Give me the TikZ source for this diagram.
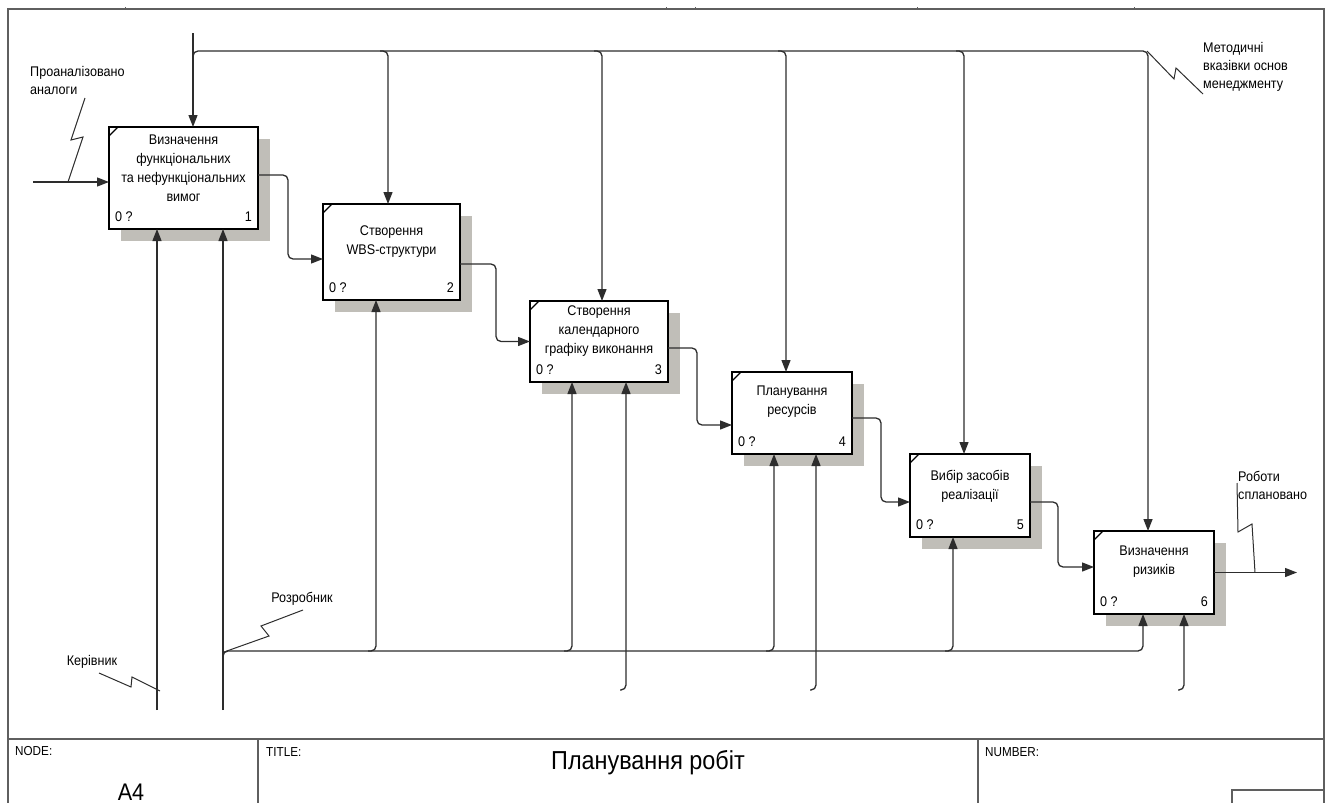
\documentclass[tikz,border=0pt]{standalone}
\usepackage{fontspec}
\setmainfont{Liberation Sans}[FakeStretch=0.9]
\usetikzlibrary{arrows.meta,calc}
\pgfdeclarelayer{background}
\pgfsetlayers{background,main}
\definecolor{shadowgray}{RGB}{192,190,184}
\definecolor{wire}{RGB}{45,45,45}
\definecolor{framegray}{RGB}{95,95,95}

\begin{document}
\begin{tikzpicture}[x=1pt,y=-1pt,
  box/.style={draw=black, line width=2.4pt, fill=white, outer sep=0pt, inner sep=0pt},
  boxtext/.style={align=center, font=\fontsize{14}{19}\selectfont, inner sep=0pt},
  corner/.style={font=\fontsize{14}{16}\selectfont, inner sep=0pt},
  lbl/.style={align=left, font=\fontsize{14}{18}\selectfont, inner sep=0pt},
  foot/.style={font=\fontsize{13}{15}\selectfont, inner sep=0pt},
  conn/.style={draw=wire, line width=1.3pt, rounded corners=5pt},
  arr/.style={conn, -{Triangle[length=12pt,width=9pt]}},
  bolt/.style={draw=wire, line width=1pt},
  frame/.style={draw=framegray, line width=2pt}]

\useasboundingbox (0,0) rectangle (1331,803);

% ---- drawing frame and title block ----
\draw[frame] (8,803) -- (8,9) -- (1324,9) -- (1324,803);
\draw[frame] (8,739) -- (1324,739);
\draw[frame, line width=1.2pt] (258,739) -- (258,803);
\draw[frame, line width=1.2pt] (978,739) -- (978,803);
\draw[frame, line width=1.2pt] (1232,803) -- (1232,790) -- (1324,790);
\foreach \t in {125,666,695,917,1134}
  \draw[framegray, line width=0.8pt] (\t,7) -- (\t,9);

\node[foot, anchor=west] (nodelbl) at (15,751) {NODE:};
\node[foot, anchor=west] (titlelbl) at (266,752) {TITLE:};
\node[foot, anchor=west] (numlbl) at (985,752) {NUMBER:};
\node[inner sep=0pt, font=\fontsize{26}{30}\selectfont] (title) at (648,763) {Планування робіт};
\node[inner sep=0pt, font=\fontsize{24}{28}\selectfont] (nodeid) at (131,792) {A4};

% ---- activity boxes ----
\node[box, minimum width=149pt, minimum height=102pt] (b1) at (183.5,178) {};
\node[box, minimum width=137pt, minimum height=96pt]  (b2) at (391.5,252) {};
\node[box, minimum width=138pt, minimum height=81pt]  (b3) at (599,341.5) {};
\node[box, minimum width=120pt, minimum height=82pt]  (b4) at (792,413) {};
\node[box, minimum width=120pt, minimum height=83pt]  (b5) at (970,495.5) {};
\node[box, minimum width=120pt, minimum height=83pt]  (b6) at (1154,572.5) {};

\begin{pgfonlayer}{background}
\foreach \b in {b1,b2,b3,b4,b5,b6}
  \fill[shadowgray] ($(\b.south west)+(12,12)$) rectangle ($(\b.north east)+(12,12)$);
\end{pgfonlayer}

\foreach \b/\n in {b1/1,b2/2,b3/3,b4/4,b5/5,b6/6}{
  \draw[line width=1.2pt] ($(\b.north west)+(0,9)$) -- ($(\b.north west)+(9,0)$);
  \node[corner, anchor=west] at ($(\b.south west)+(6,-12)$) {0 ?};
  \node[corner, anchor=east] at ($(\b.south east)+(-6,-12)$) {\n};
}

\node[boxtext] (t1) at ($(b1.north)+(0,41.5)$) {Визначення\\функціональних\\та нефункціональних\\вимог};
\node[boxtext] (t2) at ($(b2.north)+(0,37.5)$) {Створення\\WBS-структури};
\node[boxtext] (t3) at ($(b3.north)+(0,30)$) {Створення\\календарного\\графіку виконання};
\node[boxtext] (t4) at ($(b4.north)+(0,30)$) {Планування\\ресурсів};
\node[boxtext] (t5) at ($(b5.north)+(0,32)$) {Вибір засобів\\реалізації};
\node[boxtext] (t6) at ($(b6.north)+(0,31)$) {Визначення\\ризиків};

% ---- controls ----
\coordinate (ctop) at (193,33);
\draw[arr] (ctop) -- (ctop |- b1.north);
\coordinate (cbend) at (1148,51);
\draw[arr] (193,62) -- (193,51) -- (cbend) -- (cbend |- b6.north);
\coordinate (c2) at (388,51);
\coordinate (c3) at (602,51);
\coordinate (c4) at (786,51);
\coordinate (c5) at (964,51);
\draw[arr] ([xshift=-8pt]c2) -- (c2) -- (c2 |- b2.north);
\draw[arr] ([xshift=-8pt]c3) -- (c3) -- (c3 |- b3.north);
\draw[arr] ([xshift=-8pt]c4) -- (c4) -- (c4 |- b4.north);
\draw[arr] ([xshift=-8pt]c5) -- (c5) -- (c5 |- b5.north);

% ---- input, flows between activities, output ----
\coordinate (in1) at (33,182);
\draw[arr] (in1) -- (in1 -| b1.west);
\draw[arr] ([yshift=3pt]b1.east) -- ++(30,0) |- ([yshift=-7pt]b2.west);
\draw[arr] ([yshift=-12pt]b2.east) -- ++(36,0) |- (b3.west);
\draw[arr] ([yshift=-6.5pt]b3.east) -- ++(29,0) |- ([yshift=-12pt]b4.west);
\draw[arr] ([yshift=-5pt]b4.east) -- ++(29,0) |- ([yshift=-6.5pt]b5.west);
\draw[arr] ([yshift=-6.5pt]b5.east) -- ++(28,0) |- ([yshift=5.5pt]b6.west);
\coordinate (out6) at (1297,572.5);
\draw[arr] (b6.east) -- (out6);

% ---- mechanisms ----
\coordinate (m1a) at (157,710);
\coordinate (m1b) at (223,710);
\draw[arr] (m1a) -- (m1a |- b1.south);
\draw[arr] (m1b) -- (m1b |- b1.south);
\coordinate (mbus) at (1143,651);
\draw[arr] (223,662) -- (223,651) -- (mbus) -- (mbus |- b6.south);
\coordinate (m2) at (376,651);
\coordinate (m3a) at (572,651);
\coordinate (m4a) at (774,651);
\coordinate (m5) at (953,651);
\draw[arr] ([xshift=-8pt]m2) -- (m2) -- (m2 |- b2.south);
\draw[arr] ([xshift=-8pt]m3a) -- (m3a) -- (m3a |- b3.south);
\draw[arr] ([xshift=-8pt]m4a) -- (m4a) -- (m4a |- b4.south);
\draw[arr] ([xshift=-8pt]m5) -- (m5) -- (m5 |- b5.south);
\coordinate (m3b) at (626,690);
\coordinate (m4b) at (816,690);
\coordinate (m6b) at (1184,690);
\draw[arr] ([xshift=-6pt]m3b) -- (m3b) -- (m3b |- b3.south);
\draw[arr] ([xshift=-6pt]m4b) -- (m4b) -- (m4b |- b4.south);
\draw[arr] ([xshift=-6pt]m6b) -- (m6b) -- (m6b |- b6.south);

% ---- arrow labels with squiggles ----
\node[lbl, anchor=west] (lin) at (30,80.5) {Проаналізовано\\аналоги};
\draw[bolt] (85,98) -- (71,140) -- (83,137) -- (68,182);

\node[lbl, anchor=west] (lctl) at (1203,67) {Методичні\\вказівки основ\\менеджменту};
\draw[bolt] (1147,51) -- (1174,79) -- (1176,68) -- (1203,94);

\node[lbl, anchor=west] (lout) at (1238,485.5) {Роботи\\сплановано};
\draw[bolt] (1237,483) -- (1238,532) -- (1252,524) -- (1255,572.5);

\node[lbl] (ldev) at (302,599) {Розробник};
\draw[bolt] (224,652) -- (269,636) -- (261,626) -- (303,610);

\node[lbl] (lmgr) at (92,662) {Керівник};
\draw[bolt] (99,673) -- (131,687) -- (132,677) -- (160,691);

\end{tikzpicture}
\end{document}
